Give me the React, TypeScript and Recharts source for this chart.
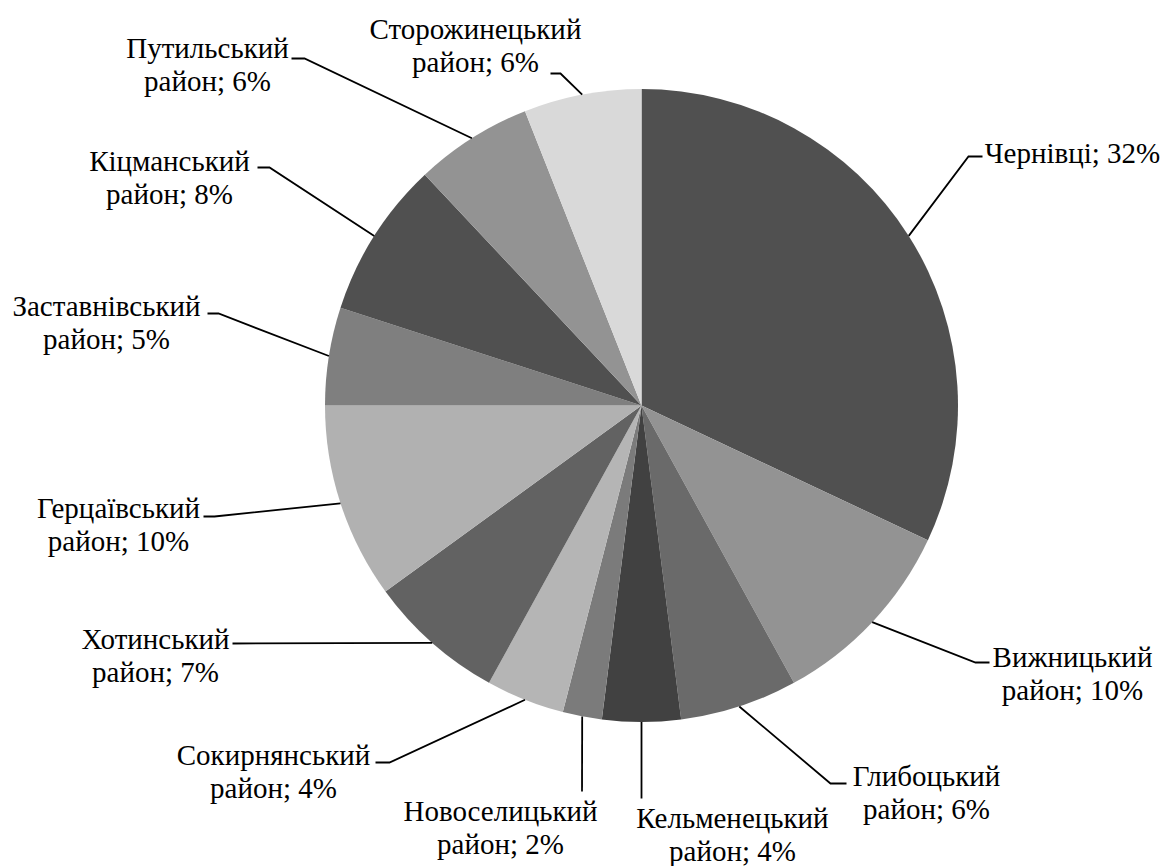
import React from 'react'
import { PieChart, Pie, Cell } from 'recharts'

const districts = [
  'Чернівці',
  'Вижницький район',
  'Глибоцький район',
  'Кельменецький район',
  'Новоселицький район',
  'Сокирнянський район',
  'Хотинський район',
  'Герцаївський район',
  'Заставнівський район',
  'Кіцманський район',
  'Путильський район',
  'Сторожинецький район',
]

const shares = [32, 10, 6, 4, 2, 4, 7, 10, 5, 8, 6, 6]

const sliceColors = [
  '#505050', '#939393', '#6a6a6a', '#414141', '#7b7b7b', '#b5b5b5',
  '#626262', '#b1b1b1', '#7f7f7f', '#505050', '#939393', '#d9d9d9',
]

const data = districts.map((name, i) => ({ name, value: shares[i] }))

// label layout, offsets from the pie centre: text centre x, first line y,
// leader knee and end points
const CX = 641.5
const CY = 405.5
const labelLayout = [
  { tx: 431, ty: -253, knee: [327, -249], end: [341, -249] },
  { tx: 431, ty: 251, knee: [334, 257], end: [348, 257] },
  { tx: 285, ty: 370, knee: [189, 378], end: [205, 378] },
  { tx: 91, ty: 412, knee: [0, 393], end: [0, 393] },
  { tx: -141, ty: 405, knee: [-59.5, 386], end: [-59.5, 386] },
  { tx: -368, ty: 349, knee: [-252, 357], end: [-266, 357] },
  { tx: -486, ty: 233, knee: [-409, 238], end: [-409, 238] },
  { tx: -523, ty: 102, knee: [-427, 111], end: [-438, 111] },
  { tx: -535, ty: -100, knee: [-423, -92], end: [-434, -92] },
  { tx: -472, ty: -245, knee: [-372, -238], end: [-384, -238] },
  { tx: -434, ty: -358, knee: [-337, -347], end: [-350, -347] },
  { tx: -166, ty: -377, knee: [-81, -332], end: [-91, -332] },
]

const RAD = Math.PI / 180
const FONT = "'Liberation Serif', 'Times New Roman', serif"
const LINE_H = 33

function renderLabel(props: any) {
  const { cx, cy, midAngle, outerRadius, index, name, value } = props
  const lay = labelLayout[index]
  const sx = cx + outerRadius * Math.cos(-midAngle * RAD)
  const sy = cy + outerRadius * Math.sin(-midAngle * RAD)
  const kx = cx + lay.knee[0]
  const ky = cy + lay.knee[1]
  const ex = cx + lay.end[0]
  const ey = cy + lay.end[1]
  const parts = name.split(' ')
  const lines = parts.length > 1
    ? [parts[0], `${parts[1]}; ${value}%`]
    : [`${name}; ${value}%`]
  return (
    <g>
      <polyline
        points={`${sx},${sy} ${kx},${ky} ${ex},${ey}`}
        fill="none"
        stroke="#000"
        strokeWidth={1.8}
      />
      <text
        x={cx + lay.tx}
        y={cy + lay.ty}
        textAnchor="middle"
        dominantBaseline="central"
        style={{ fontFamily: FONT, fontSize: 29 }}
        fill="#000"
      >
        {lines.map((l, i) => (
          <tspan key={i} x={cx + lay.tx} dy={i === 0 ? 0 : LINE_H}>{l}</tspan>
        ))}
      </text>
    </g>
  )
}

export default function App() {
  return (
    <div style={{ position: 'absolute', left: 0, top: 0, background: '#fff' }}>
      <PieChart width={1163} height={866} margin={{ top: 0, right: 0, bottom: 0, left: 0 }}>
        <Pie
          data={data}
          dataKey="value"
          nameKey="name"
          cx={CX}
          cy={CY}
          outerRadius={316.5}
          startAngle={90}
          endAngle={-270}
          stroke="none"
          label={renderLabel}
          labelLine={false}
          isAnimationActive={false}
        >
          {data.map((d, i) => (
            <Cell key={d.name} fill={sliceColors[i]} />
          ))}
        </Pie>
      </PieChart>
    </div>
  )
}
